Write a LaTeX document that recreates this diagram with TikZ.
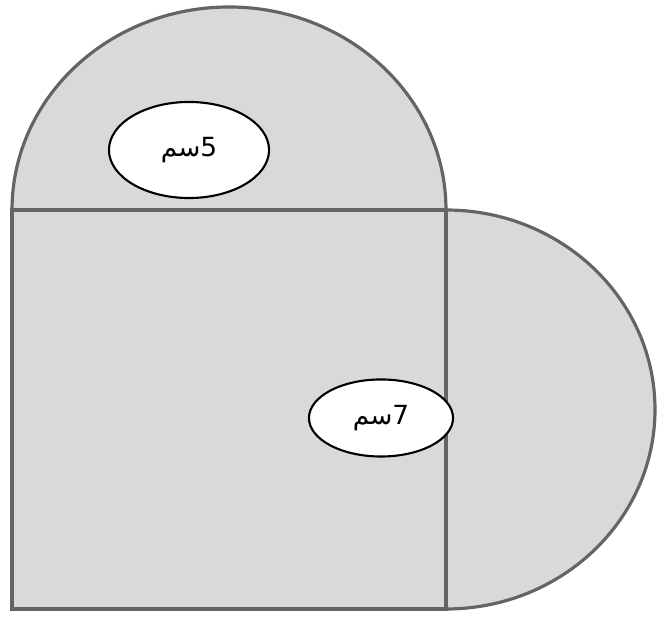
\documentclass[tikz,border=0pt]{standalone}
\usepackage{fontspec}
\usetikzlibrary{shapes.geometric, positioning, calc}
\newfontfamily\arabicfont[Script=Arabic]{DejaVu Sans}
\TeXXeTstate=1
\definecolor{shapegray}{RGB}{217,217,217}
\definecolor{edgegray}{RGB}{100,100,100}

\begin{document}
\begin{tikzpicture}[x=0.01cm, y=-0.01cm]
        \useasboundingbox (0,0) rectangle (657,619);
        % half discs on top and on the right
        \filldraw[fill=shapegray, draw=edgegray, line width=0.9pt] (12,210) arc[start angle=180, end angle=0, x radius=217, y radius=-203] -- cycle;
        \filldraw[fill=shapegray, draw=edgegray, line width=0.9pt] (446,210) arc[start angle=90, end angle=-90, x radius=209, y radius=-199.5] -- cycle;
        % square
        \filldraw[fill=shapegray, draw=edgegray, line width=0.9pt] (12,210) rectangle (446,609);
        % labels
        \node[draw, ellipse, fill=white, line width=0.6pt, minimum width=1.6cm, minimum height=0.96cm, inner sep=0pt, font=\arabicfont\fontsize{7.5}{8}\selectfont] at (189,150) (radiustop) {\beginR 5سم\endR};
        \node[draw, ellipse, fill=white, line width=0.6pt, minimum width=1.44cm, minimum height=0.77cm, inner sep=0pt, font=\arabicfont\fontsize{7.5}{8}\selectfont] at (381,418) (radiusright) {\beginR 7سم\endR};
\end{tikzpicture}
\end{document}
